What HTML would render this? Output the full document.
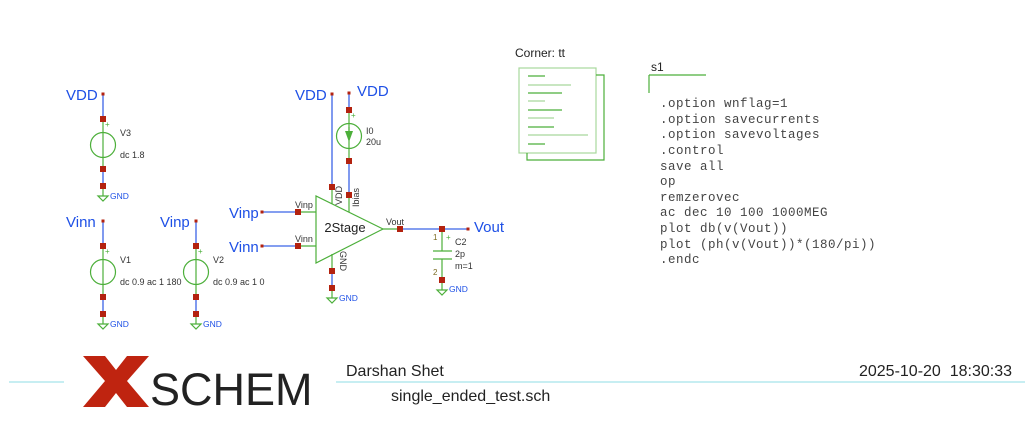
<!DOCTYPE html>
<html><head><meta charset="utf-8"><style>
html,body{margin:0;padding:0;background:#fff;width:1031px;height:431px;overflow:hidden}
svg{display:block}
.b{fill:#1e50e6;font-family:"Liberation Sans",sans-serif}
.t{fill:#333;font-family:"Liberation Sans",sans-serif;font-size:9px}
.m{fill:#444;font-family:"Liberation Mono",monospace;font-size:12.5px;letter-spacing:0.5px}
</style></head><body>
<svg width="1031" height="431" viewBox="0 0 1031 431" xmlns="http://www.w3.org/2000/svg">
<g stroke="#3b63e6" stroke-width="1.3" fill="none">
<line x1="103" y1="94" x2="103" y2="119"/><line x1="103" y1="169" x2="103" y2="186"/>
<line x1="103" y1="221" x2="103" y2="246"/><line x1="103" y1="297" x2="103" y2="314"/>
<line x1="196" y1="221" x2="196" y2="246"/><line x1="196" y1="297" x2="196" y2="314"/>
<line x1="332" y1="94" x2="332" y2="187"/><line x1="349" y1="93" x2="349" y2="110"/>
<line x1="349" y1="161" x2="349" y2="195"/><line x1="262" y1="212" x2="298" y2="212"/>
<line x1="262" y1="246" x2="298" y2="246"/><line x1="332" y1="271" x2="332" y2="288"/>
<line x1="400" y1="229" x2="468" y2="229"/>
</g>
<g stroke="#4caf3a" stroke-width="1.2" fill="none">
<line x1="103" y1="119" x2="103" y2="169"/><circle cx="103" cy="145" r="12.5"/>
<line x1="103" y1="246" x2="103" y2="297"/><circle cx="103" cy="272" r="12.5"/>
<line x1="196" y1="246" x2="196" y2="297"/><circle cx="196" cy="272" r="12.5"/>
<line x1="349" y1="110" x2="349" y2="161"/><circle cx="349" cy="136" r="12.5"/>
<polygon points="316,196 316,263 383,229"/>
<line x1="298" y1="212" x2="316" y2="212"/><line x1="298" y1="246" x2="316" y2="246"/>
<line x1="332" y1="187" x2="332" y2="204"/><line x1="349" y1="195" x2="349" y2="212"/>
<line x1="332" y1="254" x2="332" y2="271"/><line x1="383" y1="229" x2="400" y2="229"/>
<line x1="442" y1="229" x2="442" y2="251"/><line x1="442" y1="259" x2="442" y2="280"/>
<line x1="433" y1="251" x2="452" y2="251"/><line x1="433" y1="259" x2="452" y2="259"/>
<line x1="103" y1="186" x2="103" y2="196"/><line x1="103" y1="314" x2="103" y2="324"/>
<line x1="196" y1="314" x2="196" y2="324"/><line x1="332" y1="288" x2="332" y2="298"/>
<line x1="442" y1="280" x2="442" y2="290"/>
<polygon points="98,196 108,196 103,201"/><polygon points="98,324 108,324 103,329"/>
<polygon points="191,324 201,324 196,329"/><polygon points="327,298 337,298 332,303"/>
<polygon points="437,290 447,290 442,295"/>
<rect x="519" y="68" width="77" height="85" stroke="#a8d89c"/>
<polyline points="596,75 604,75 604,160 527,160 527,153"/>
<line x1="649" y1="75" x2="706" y2="75"/><line x1="649" y1="75" x2="649" y2="93"/>
<line x1="528" y1="76" x2="545" y2="76"/><line x1="528" y1="85" x2="571" y2="85" stroke="#a8d89c"/>
<line x1="528" y1="93" x2="562" y2="93"/><line x1="528" y1="101" x2="545" y2="101" stroke="#a8d89c"/>
<line x1="528" y1="110" x2="562" y2="110"/><line x1="528" y1="118" x2="554" y2="118" stroke="#a8d89c"/>
<line x1="528" y1="127" x2="554" y2="127"/><line x1="528" y1="135" x2="588" y2="135" stroke="#a8d89c"/>
<line x1="528" y1="144" x2="545" y2="144"/>
</g>
<g fill="#4caf3a"><polygon points="345,131 353,131 349,142"/><rect x="348.4" y="127" width="1.2" height="8"/></g>
<g fill="#b3220f">
<rect x="101.5" y="92.5" width="3" height="3"/><rect x="100" y="116" width="6" height="6"/><rect x="100" y="166" width="6" height="6"/><rect x="100" y="183" width="6" height="6"/>
<rect x="101.5" y="219.5" width="3" height="3"/><rect x="100" y="243" width="6" height="6"/><rect x="100" y="294" width="6" height="6"/><rect x="100" y="311" width="6" height="6"/>
<rect x="194.5" y="219.5" width="3" height="3"/><rect x="193" y="243" width="6" height="6"/><rect x="193" y="294" width="6" height="6"/><rect x="193" y="311" width="6" height="6"/>
<rect x="330.5" y="92.5" width="3" height="3"/><rect x="347.5" y="91.5" width="3" height="3"/>
<rect x="346" y="107" width="6" height="6"/><rect x="346" y="158" width="6" height="6"/><rect x="346" y="192" width="6" height="6"/>
<rect x="329" y="184" width="6" height="6"/><rect x="329" y="268" width="6" height="6"/><rect x="329" y="285" width="6" height="6"/>
<rect x="260.5" y="210.5" width="3" height="3"/><rect x="260.5" y="244.5" width="3" height="3"/>
<rect x="295" y="209" width="6" height="6"/><rect x="295" y="243" width="6" height="6"/>
<rect x="397" y="226" width="6" height="6"/><rect x="439" y="226" width="6" height="6"/><rect x="439" y="277" width="6" height="6"/>
<rect x="466.5" y="227.5" width="3" height="3"/>
</g>
<g class="b" font-size="15">
<text x="66" y="100">VDD</text><text x="66" y="227">Vinn</text><text x="160" y="227">Vinp</text>
<text x="295" y="100">VDD</text><text x="357" y="96">VDD</text>
<text x="229" y="218">Vinp</text><text x="229" y="252">Vinn</text><text x="474" y="232">Vout</text>
</g>
<g class="b" font-size="8.5">
<text x="110" y="199">GND</text><text x="110" y="327">GND</text><text x="203" y="327">GND</text>
<text x="339" y="301">GND</text><text x="449" y="292">GND</text>
</g>
<g class="t" fill="#333">
<text x="120" y="136">V3</text><text x="120" y="158">dc 1.8</text>
<text x="120" y="263">V1</text><text x="120" y="285">dc 0.9 ac 1 180</text>
<text x="213" y="263">V2</text><text x="213" y="285">dc 0.9 ac 1 0</text>
<text x="366" y="134">I0</text><text x="366" y="145">20u</text>
<text x="295" y="208">Vinp</text><text x="295" y="242">Vinn</text><text x="386" y="225">Vout</text>
<text x="455" y="245">C2</text><text x="455" y="257">2p</text><text x="455" y="269">m=1</text>
<text x="0" y="0" transform="translate(342,205) rotate(-90)">VDD</text>
<text x="0" y="0" transform="translate(359,207) rotate(-90)">Ibias</text>
<text x="0" y="0" transform="translate(340,251) rotate(90)">GND</text>
</g>
<g fill="#4caf3a" font-family="Liberation Sans,sans-serif" font-size="8">
<text x="105" y="127">+</text><text x="105" y="254">+</text><text x="198" y="254">+</text><text x="351" y="118">+</text>
<text x="446" y="240">+</text></g>
<g fill="#7a6a20" font-family="Liberation Sans,sans-serif" font-size="8"><text x="433" y="240">1</text><text x="433" y="275">2</text></g>
<text x="345" y="232" font-family="Liberation Sans,sans-serif" font-size="13" fill="#222" text-anchor="middle">2Stage</text>
<text x="515" y="57" font-family="Liberation Sans,sans-serif" font-size="12" fill="#222">Corner: tt</text>
<text x="651" y="71" font-family="Liberation Sans,sans-serif" font-size="12" fill="#222">s1</text>
<g class="m">
<text x="660" y="107">.option wnflag=1</text>
<text x="660" y="123">.option savecurrents</text>
<text x="660" y="138">.option savevoltages</text>
<text x="660" y="154">.control</text>
<text x="660" y="170">save all</text>
<text x="660" y="185">op</text>
<text x="660" y="201">remzerovec</text>
<text x="660" y="216">ac dec 10 100 1000MEG</text>
<text x="660" y="232">plot db(v(Vout))</text>
<text x="660" y="248">plot (ph(v(Vout))*(180/pi))</text>
<text x="660" y="263">.endc</text>
</g>
<g stroke="#8fdce6" stroke-width="1"><line x1="9" y1="382" x2="64" y2="382"/><line x1="336" y1="382" x2="1025" y2="382"/></g>
<polygon fill="#bf2410" points="83,356 105,356 116,370 127,356 149,356 127,381 149,407 127,407 116,393 105,407 83,407 105,381"/>
<text x="150" y="405" font-family="Liberation Sans,sans-serif" font-size="45" fill="#222">SCHEM</text>
<text x="346" y="376" font-family="Liberation Sans,sans-serif" font-size="16" fill="#222">Darshan Shet</text>
<text x="391" y="401" font-family="Liberation Sans,sans-serif" font-size="16" fill="#222">single_ended_test.sch</text>
<text x="1012" y="376" font-family="Liberation Sans,sans-serif" font-size="16" fill="#222" text-anchor="end">2025-10-20&#160;&#160;18:30:33</text>
</svg>
</body></html>
